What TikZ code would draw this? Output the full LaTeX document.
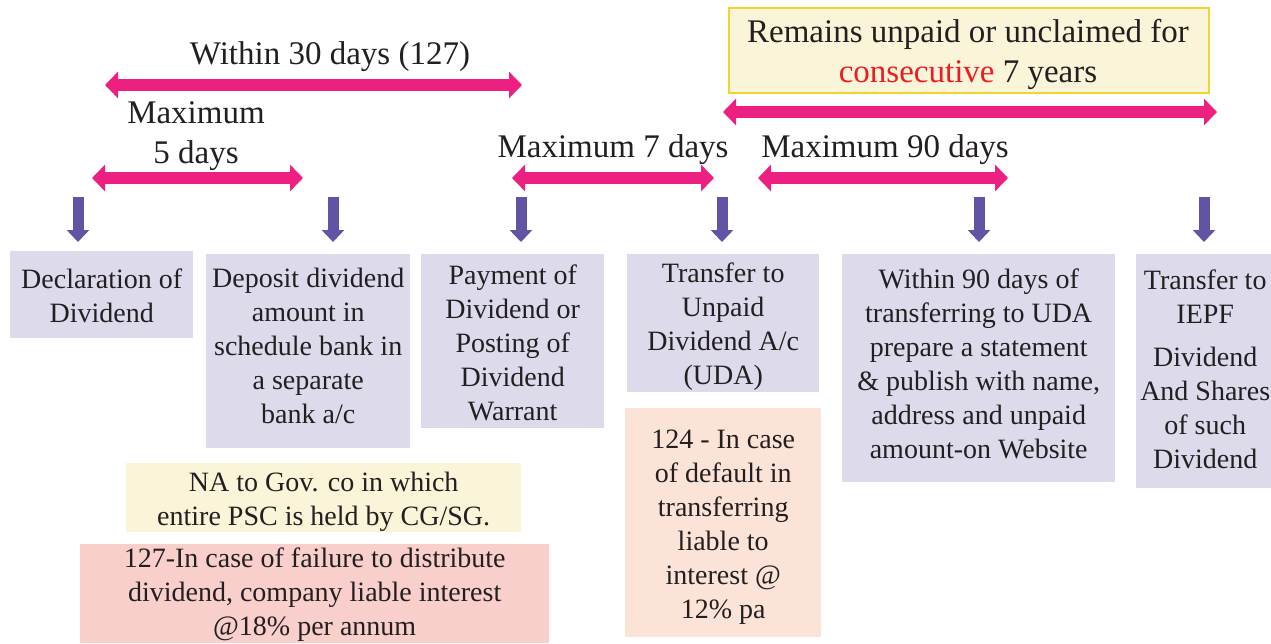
\documentclass[tikz,border=0pt]{standalone}
\usepackage{fontspec}
\setmainfont{Liberation Serif}
\usetikzlibrary{arrows.meta}

\definecolor{spanpink}{RGB}{237,31,128}
\definecolor{droppurple}{RGB}{97,84,164}
\definecolor{lav}{RGB}{221,218,236}
\definecolor{cream}{RGB}{250,245,216}
\definecolor{gold}{RGB}{242,212,48}
\definecolor{rose}{RGB}{248,207,203}
\definecolor{peach}{RGB}{252,227,216}
\definecolor{ink}{RGB}{35,31,32}
\definecolor{alertred}{RGB}{237,28,36}

\newcommand\boxfont{\fontsize{28}{34}\selectfont}
\newcommand\headfont{\fontsize{33}{40}\selectfont}

\begin{document}
\begin{tikzpicture}[x=1pt,y=-1pt,
  spanarrow/.style={draw=spanpink, line width=12pt,
    {Triangle[length=13pt,width=26pt]}-{Triangle[length=13pt,width=26pt]}},
  droparrow/.style={draw=droppurple, line width=11pt,
    -{Triangle[length=12pt,width=22pt]}},
  panel/.style={inner sep=0pt, anchor=north west},
  stepbox/.style={panel, fill=lav},
  boxtext/.style={inner sep=0pt, align=center, text=ink, font=\boxfont},
  heading/.style={text=ink, font=\headfont, inner sep=0pt, anchor=base},
]
\useasboundingbox (0,0) rectangle (1271,643);

% ---- period box at the top right ----
\node[panel, fill=cream, draw=gold, line width=1.5pt, minimum width=480pt,
      minimum height=85pt] (yearsbox) at (728,7) {};
\node[heading] (yearsA) at (968,42) {Remains unpaid or unclaimed for};
\node[heading] (yearsB) at (968,82) {\textcolor{alertred}{consecutive} 7 years};

% ---- span labels ----
\node[heading] (lab30) at (330,64) {Within 30 days (127)};
\node[heading] (lab5a) at (196,123) {Maximum};
\node[heading] (lab5b) at (196,163) {5 days};
\node[heading] (lab7) at (613,157) {Maximum 7 days};
\node[heading] (lab90) at (885,157) {Maximum 90 days};

% ---- span arrow end points ----
\coordinate (s30a) at (105,85);  \coordinate (s30b) at (522,85);
\coordinate (s5a)  at (92,178);  \coordinate (s5b)  at (303,178);
\coordinate (s7a)  at (512,178); \coordinate (s7b)  at (714,178);
\coordinate (s90a) at (758,178); \coordinate (s90b) at (1008,178);
\coordinate (syA)  at (723,112); \coordinate (syB)  at (1217,112);

\draw[spanarrow] (s30a) -- (s30b);
\draw[spanarrow] (s5a) -- (s5b);
\draw[spanarrow] (s7a) -- (s7b);
\draw[spanarrow] (s90a) -- (s90b);
\draw[spanarrow] (syA) -- (syB);

% ---- step boxes ----
\node[stepbox, minimum width=183pt, minimum height=87pt]  (declare)  at (10,251)  {};
\node[stepbox, minimum width=204pt, minimum height=194pt] (deposit)  at (206,254) {};
\node[stepbox, minimum width=183pt, minimum height=174pt] (payment)  at (421,254) {};
\node[stepbox, minimum width=192pt, minimum height=138pt] (transfer) at (627,254) {};
\node[stepbox, minimum width=273pt, minimum height=228pt] (publish)  at (842,254) {};
\node[stepbox, minimum width=140pt, minimum height=234pt] (iepf)     at (1136,254) {};

\node[boxtext] (declareT)  at ([yshift=-1pt]declare.center)  {Declaration of\\Dividend};
\node[boxtext] (depositT)  at ([yshift=5pt]deposit.center)   {Deposit dividend\\amount in\\schedule bank in\\a separate\\bank a/c};
\node[boxtext] (paymentT)  at ([yshift=-2pt]payment.center)  {Payment of\\Dividend or\\Posting of\\Dividend\\Warrant};
\node[boxtext] (transferT) at ([yshift=-3pt]transfer.center) {Transfer to\\Unpaid\\Dividend A/c\\(UDA)};
\node[boxtext] (publishT)  at ([yshift=4pt]publish.center)   {Within 90 days of\\transferring to UDA\\prepare a statement\\\& publish with name,\\address and unpaid\\amount-on Website};
\node[boxtext] (iepfT)     at ([xshift=-1pt,yshift=2pt]iepf.center) {Transfer to\\IEPF\\[9pt]Dividend\\And Shares\\of such\\Dividend};

% ---- drop arrows into the step boxes ----
\foreach \n/\x in {1/78, 2/333, 3/521, 4/722, 5/979, 6/1204} {
  \coordinate (d\n a) at (\x,197);
  \coordinate (d\n b) at (\x,242);
  \draw[droparrow] (d\n a) -- (d\n b);
}

% ---- notes ----
\node[panel, fill=cream, minimum width=395pt, minimum height=69pt]  (govnote)     at (126,463) {};
\node[panel, fill=rose,  minimum width=469pt, minimum height=99pt]  (failnote)    at (80,544)  {};
\node[panel, fill=peach, minimum width=196pt, minimum height=229pt] (defaultnote) at (625,408) {};

\node[boxtext] (govnoteT)     at ([yshift=-4pt]govnote.center)     {NA to Gov. co in which\\entire PSC is held by CG/SG.};
\node[boxtext] (failnoteT)    at ([yshift=-1pt]failnote.center)    {127-In case of failure to distribute\\dividend, company liable interest\\@18\% per annum};
\node[boxtext] (defaultnoteT) at ([yshift=-5pt]defaultnote.center) {124 - In case\\of default in\\transferring\\liable to\\interest @\\12\% pa};

\end{tikzpicture}
\end{document}
